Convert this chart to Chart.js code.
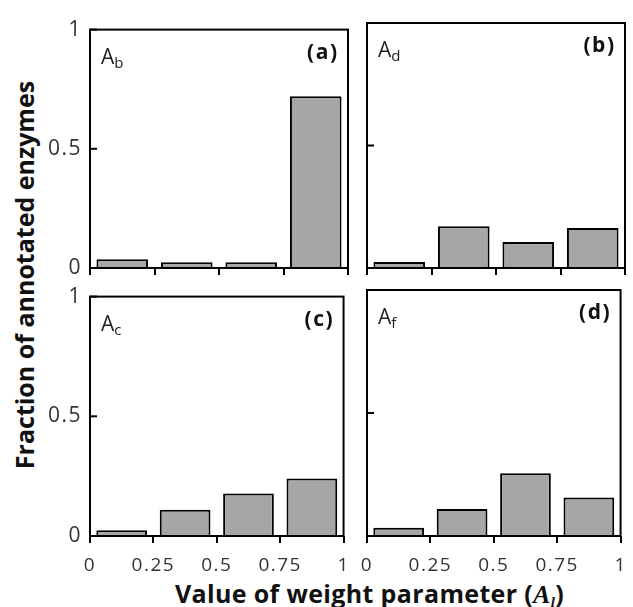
<!DOCTYPE html>
<html>
<head>
<meta charset="utf-8">
<script src="https://cdn.jsdelivr.net/npm/chart.js@4/dist/chart.umd.min.js"></script>
<style>
  html, body { margin: 0; padding: 0; background: #fff; }
  #wrap { position: relative; width: 633px; height: 607px; overflow: hidden; background: #fff; }
  canvas { position: absolute; }
  .ytitle {
    position: absolute; width: 420px; height: 30px; line-height: 30px;
    left: -188px; top: 260px; text-align: center;
    transform: rotate(-90deg);
    font: 700 25px "Open Sans"; color: #111; white-space: nowrap;
  }
  .xtitle {
    position: absolute; left: 175px; top: 576px; line-height: 25px;
    font: 700 25px "Open Sans"; color: #111; white-space: nowrap; letter-spacing: 0.35px;
  }
  .xtitle i { font-family: "Liberation Serif"; font-style: italic; font-weight: 700; font-size: 26px; }
  .xtitle sub { font-size: 15px; vertical-align: -4px; line-height: 0; }
</style>
</head>
<body>
<div id="wrap">
  <div class="ytitle">Fraction of annotated enzymes</div>
  <div class="xtitle">Value of weight parameter (<i>A<sub>l</sub></i>)</div>
</div>
<script>
// ---- data ----
const binCenters = [0.125, 0.375, 0.625, 0.875];
const xTickValues = [0, 0.25, 0.5, 0.75, 1];
const xTickLabels = ['0', '0.25', '0.5', '0.75', '1'];
const yTickValues = [0, 0.5, 1];
const yTickLabels = ['0', '0.5', '1'];
const fracAb = [0.037, 0.024, 0.024, 0.72];
const fracAd = [0.025, 0.17, 0.106, 0.163];
const fracAc = [0.024, 0.11, 0.178, 0.24];
const fracAf = [0.034, 0.11, 0.255, 0.156];

// ---- layout ----
const YW = 60, XH = 40, PT = 14, PR = 12;
const panels = [
  { sub: 'b', tag: '(a)', values: fracAb, showY: true,  showX: false, box: [90, 23, 348, 268] },
  { sub: 'd', tag: '(b)', values: fracAd, showY: false, showX: false, box: [367, 23, 625, 268] },
  { sub: 'c', tag: '(c)', values: fracAc, showY: true,  showX: true,  box: [90, 290, 348, 536] },
  { sub: 'f', tag: '(d)', values: fracAf, showY: false, showX: true,  box: [367, 290, 625, 536] }
];

Chart.defaults.font.family = '"Open Sans"';

const framePlugin = {
  id: 'frame',
  beforeDraw(chart) { chart.ctx.letterSpacing = '1.5px'; },
  afterDatasetsDraw(chart, args, opts) {
    const { ctx, chartArea: a } = chart;
    const y = chart.scales.y;
    ctx.save();
    ctx.letterSpacing = '0px';
    ctx.strokeStyle = '#000';
    ctx.lineWidth = 2;
    ctx.strokeRect(a.left, a.top, a.right - a.left, a.bottom - a.top);
    y.ticks.forEach(t => {
      const py = y.getPixelForValue(t.value);
      ctx.beginPath();
      ctx.moveTo(a.left, py);
      ctx.lineTo(a.left + 7, py);
      ctx.stroke();
    });
    ctx.fillStyle = '#222';
    ctx.textBaseline = 'alphabetic';
    ctx.textAlign = 'left';
    ctx.font = '400 21px "Open Sans"';
    ctx.fillText('A', a.left + 11, a.top + 34);
    const w = ctx.measureText('A').width;
    ctx.font = '400 15px "Open Sans"';
    ctx.fillText(opts.sub, a.left + 11 + w, a.top + 38);
    ctx.font = '700 21px "Open Sans"';
    ctx.letterSpacing = '1.5px';
    ctx.fillStyle = '#111';
    ctx.textAlign = 'right';
    ctx.fillText(opts.tag, a.right - 9.5, a.top + 29);
    ctx.restore();
  },
  afterDraw(chart) { chart.ctx.letterSpacing = '0px'; }
};

const wrap = document.getElementById('wrap');
panels.forEach(p => {
  const [L, T, R, B] = p.box;
  const cv = document.createElement('canvas');
  const W = YW + (R - L) + PR, H = PT + (B - T) + XH;
  cv.width = W; cv.height = H;
  cv.style.left = (L - YW) + 'px';
  cv.style.top = (T - PT) + 'px';
  cv.style.width = W + 'px'; cv.style.height = H + 'px';
  wrap.appendChild(cv);

  new Chart(cv, {
    type: 'bar',
    data: {
      datasets: [{
        data: binCenters.map((c, i) => ({ x: c, y: p.values[i] })),
        backgroundColor: '#a6a6a6',
        borderColor: '#000',
        borderWidth: 2,
        barPercentage: 0.8,
        categoryPercentage: 1.0
      }]
    },
    options: {
      responsive: false,
      animation: false,
      devicePixelRatio: 1,
      layout: { padding: { top: PT, right: PR, left: 0, bottom: 0 } },
      plugins: {
        legend: { display: false },
        tooltip: { enabled: false },
        frame: { sub: p.sub, tag: p.tag }
      },
      scales: {
        x: {
          type: 'linear', min: 0, max: 1, offset: false,
          afterBuildTicks: s => { s.ticks = xTickValues.map(v => ({ value: v })); },
          afterFit: s => { s.height = XH; },
          ticks: {
            display: p.showX, autoSkip: false, maxRotation: 0,
            callback: (v, i) => xTickLabels[i],
            font: { size: 19 }, color: '#333', padding: 11
          },
          grid: { drawOnChartArea: false, drawTicks: true, tickLength: 7, lineWidth: 2, color: '#000', offset: false },
          border: { display: false }
        },
        y: {
          type: 'linear', min: 0, max: 1,
          afterBuildTicks: s => { s.ticks = yTickValues.map(v => ({ value: v })); },
          afterFit: s => { s.width = YW; },
          ticks: {
            display: p.showY,
            callback: (v, i) => yTickLabels[i],
            font: { size: 21 }, color: '#333', padding: 8
          },
          grid: { display: false, drawTicks: false },
          border: { display: false }
        }
      }
    },
    plugins: [framePlugin]
  });
});
</script>
</body>
</html>
